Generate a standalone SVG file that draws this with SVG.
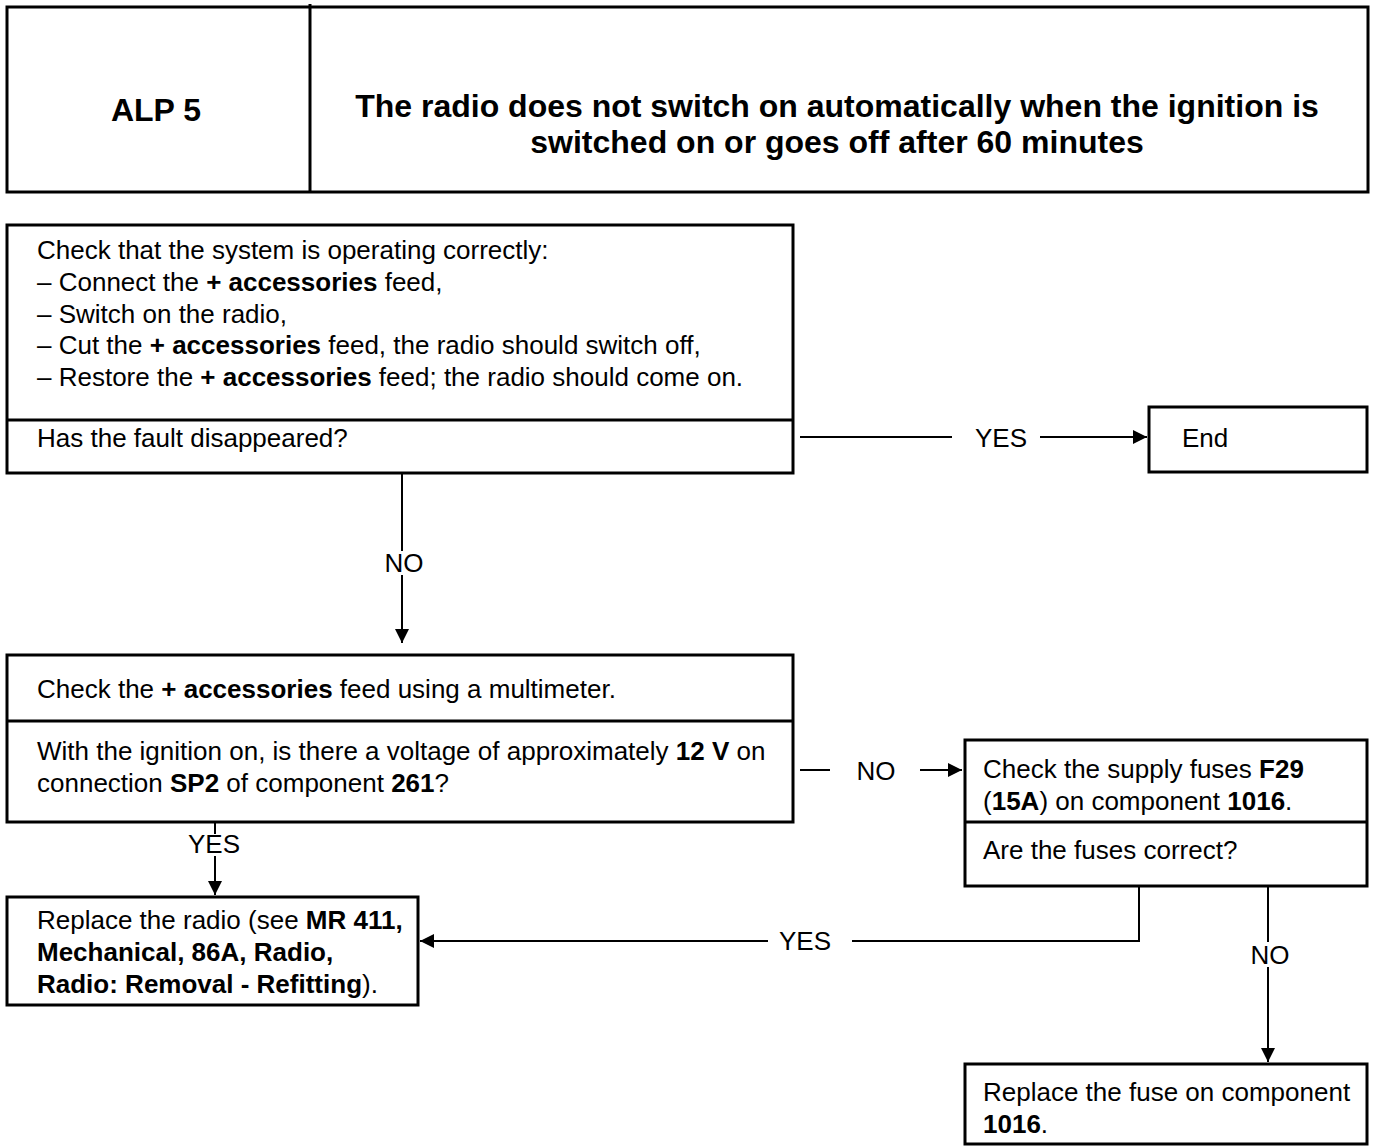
<svg xmlns="http://www.w3.org/2000/svg" width="1373" height="1147" viewBox="0 0 1373 1147">
<defs>
<style>
.box{fill:#fff;stroke:#000;stroke-width:3}
.div{stroke:#000;stroke-width:3}
.t{font-family:"Liberation Sans",Arial,sans-serif;font-size:26px;fill:#000}
.h{font-family:"Liberation Sans",Arial,sans-serif;font-size:32px;font-weight:bold;fill:#000}
.b{font-weight:bold}
.c{fill:none;stroke:#000;stroke-width:2}
.lbl{font-family:"Liberation Sans",Arial,sans-serif;font-size:26px;fill:#000;text-anchor:middle}
</style>
<marker id="ah" viewBox="0 0 12 12" refX="12" refY="6" markerWidth="14" markerHeight="14" markerUnits="userSpaceOnUse" orient="auto">
<path d="M0,0 L12,6 L0,12 Z" fill="#000"/>
</marker>
</defs>
<rect width="1373" height="1147" fill="#fff"/>

<g id="header">
<rect class="box" x="7" y="7" width="1361" height="185"/>
<line class="div" x1="310" y1="4" x2="310" y2="192"/>
<text class="h" x="156" y="121" text-anchor="middle">ALP 5</text>
<text class="h" x="837" y="117" text-anchor="middle">The radio does not switch on automatically when the ignition is</text>
<text class="h" x="837" y="153" text-anchor="middle">switched on or goes off after 60 minutes</text>
</g>

<g id="n1">
<rect class="box" x="7" y="225" width="786" height="248"/>
<line class="div" x1="7" y1="420" x2="793" y2="420"/>
<text class="t" x="37" y="259">Check that the system is operating correctly:</text>
<text class="t" x="37" y="291">– Connect the <tspan class="b">+ accessories</tspan> feed,</text>
<text class="t" x="37" y="323">– Switch on the radio,</text>
<text class="t" x="37" y="354">– Cut the <tspan class="b">+ accessories</tspan> feed, the radio should switch off,</text>
<text class="t" x="37" y="386">– Restore the <tspan class="b">+ accessories</tspan> feed; the radio should come on.</text>
<text class="t" x="37" y="447">Has the fault disappeared?</text>
</g>

<g id="n_end">
<rect class="box" x="1149" y="407" width="218" height="65"/>
<text class="t" x="1182" y="447">End</text>
</g>

<g id="n2">
<rect class="box" x="7" y="655" width="786" height="167"/>
<line class="div" x1="7" y1="721" x2="793" y2="721"/>
<text class="t" x="37" y="698">Check the <tspan class="b">+ accessories</tspan> feed using a multimeter.</text>
<text class="t" x="37" y="760">With the ignition on, is there a voltage of approximately <tspan class="b">12 V</tspan> on</text>
<text class="t" x="37" y="792">connection <tspan class="b">SP2</tspan> of component <tspan class="b">261</tspan>?</text>
</g>

<g id="n3">
<rect class="box" x="965" y="740" width="402" height="146"/>
<line class="div" x1="965" y1="822" x2="1367" y2="822"/>
<text class="t" x="983" y="778">Check the supply fuses <tspan class="b">F29</tspan></text>
<text class="t" x="983" y="810">(<tspan class="b">15A</tspan>) on component <tspan class="b">1016</tspan>.</text>
<text class="t" x="983" y="859">Are the fuses correct?</text>
</g>

<g id="n4">
<rect class="box" x="7" y="897" width="411" height="108"/>
<text class="t" x="37" y="929">Replace the radio (see <tspan class="b">MR 411,</tspan></text>
<text class="t b" x="37" y="961">Mechanical, 86A, Radio,</text>
<text class="t" x="37" y="993"><tspan class="b">Radio: Removal - Refitting</tspan>).</text>
</g>

<g id="n5">
<rect class="box" x="965" y="1064" width="402" height="80"/>
<text class="t" x="983" y="1101">Replace the fuse on component</text>
<text class="t" x="983" y="1133"><tspan class="b">1016</tspan>.</text>
</g>

<g id="connectors">
<line class="c" x1="800" y1="437" x2="952" y2="437"/>
<text class="lbl" x="1001" y="447">YES</text>
<line class="c" x1="1040" y1="437" x2="1147" y2="437" marker-end="url(#ah)"/>

<line class="c" x1="402" y1="473" x2="402" y2="551"/>
<text class="lbl" x="404" y="572">NO</text>
<line class="c" x1="402" y1="575" x2="402" y2="643" marker-end="url(#ah)"/>

<line class="c" x1="800" y1="770" x2="830" y2="770"/>
<text class="lbl" x="876" y="780">NO</text>
<line class="c" x1="920" y1="770" x2="962" y2="770" marker-end="url(#ah)"/>

<line class="c" x1="215" y1="822" x2="215" y2="834"/>
<text class="lbl" x="214" y="853">YES</text>
<line class="c" x1="215" y1="856" x2="215" y2="895" marker-end="url(#ah)"/>

<polyline class="c" points="1139,886 1139,941 852,941"/>
<text class="lbl" x="805" y="950">YES</text>
<line class="c" x1="768" y1="941" x2="420" y2="941" marker-end="url(#ah)"/>

<line class="c" x1="1268" y1="886" x2="1268" y2="942"/>
<text class="lbl" x="1270" y="964">NO</text>
<line class="c" x1="1268" y1="967" x2="1268" y2="1062" marker-end="url(#ah)"/>
</g>
</svg>
